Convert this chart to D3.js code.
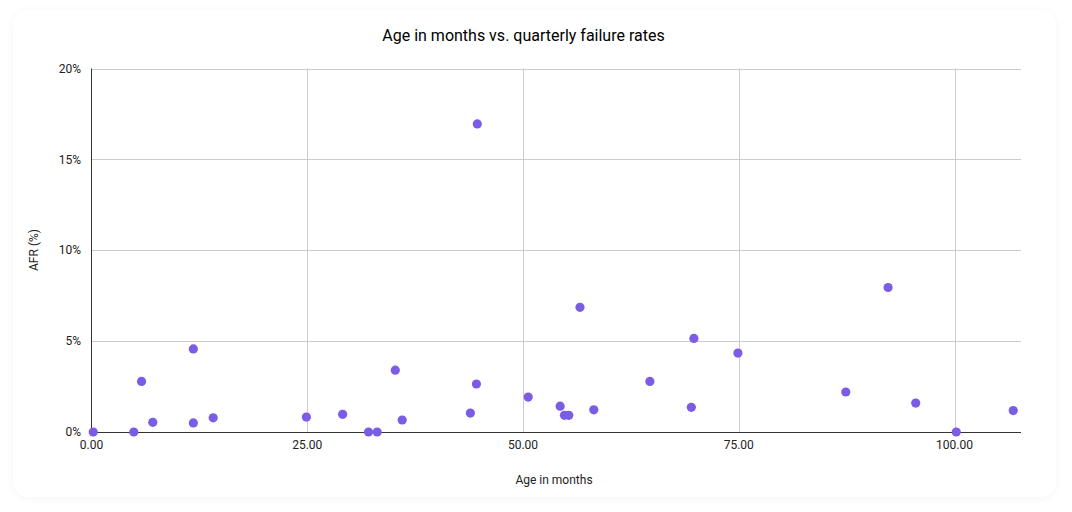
<!DOCTYPE html>
<html>
<head>
<meta charset="utf-8">
<script src="https://cdn.jsdelivr.net/npm/d3@7"></script>
<style>
  html, body { margin: 0; padding: 0; background: #ffffff; }
  svg { display: block; font-family: Roboto, "Noto Sans", sans-serif; }
</style>
</head>
<body>
<svg id="chart" width="1072" height="512"></svg>
<script>
const ageMonths = [0.2, 4.9, 5.8, 7.1, 11.8, 11.8, 14.1, 24.9, 29.1, 32.1, 33.1, 35.2, 36.0, 43.9, 44.6, 44.7, 50.6, 54.3, 54.8, 55.3, 56.6, 58.2, 64.7, 69.5, 69.8, 74.9, 87.4, 92.3, 95.5, 100.2, 106.8];
const afrPct    = [0.0, 0.0, 2.78, 0.53, 4.57, 0.5, 0.78, 0.82, 0.97, 0.0, 0.0, 3.4, 0.66, 1.04, 2.64, 16.95, 1.92, 1.42, 0.92, 0.92, 6.86, 1.22, 2.78, 1.36, 5.15, 4.34, 2.2, 7.95, 1.59, 0.0, 1.18];
const xTicks = [0, 25, 50, 75, 100];
const yTicks = [0, 5, 10, 15, 20];
const chartTitle = "Age in months vs. quarterly failure rates";
const xTitle = "Age in months";
const yTitle = "AFR (%)";

const svg = d3.select("#chart");
const m = { left: 91.5, right: 1021, top: 68.5, bottom: 432 };

// card
const defs = svg.append("defs");
const f = defs.append("filter").attr("id", "sh").attr("x", "-5%").attr("y", "-5%").attr("width", "110%").attr("height", "110%");
f.append("feDropShadow").attr("dx", 0).attr("dy", 1).attr("stdDeviation", 3).attr("flood-color", "#5050c8").attr("flood-opacity", 0.05);
svg.append("rect").attr("x", 13).attr("y", 10).attr("width", 1043).attr("height", 487)
  .attr("rx", 16).attr("fill", "#ffffff").attr("filter", "url(#sh)");

const x = d3.scaleLinear().domain([0, 107.7]).range([m.left, m.right]);
const y = d3.scaleLinear().domain([0, 20]).range([m.bottom, m.top]);

// grid
svg.append("g").selectAll("line").data(yTicks.filter(d => d > 0)).join("line")
  .attr("x1", m.left).attr("x2", m.right)
  .attr("y1", d => Math.round(y(d)) + 0.5).attr("y2", d => Math.round(y(d)) + 0.5)
  .attr("stroke", "#cccccc").attr("stroke-width", 1);
svg.append("g").selectAll("line").data(xTicks.filter(d => d > 0)).join("line")
  .attr("y1", m.top).attr("y2", m.bottom)
  .attr("x1", d => Math.round(x(d)) + 0.5).attr("x2", d => Math.round(x(d)) + 0.5)
  .attr("stroke", "#cccccc").attr("stroke-width", 1);

// axes lines
svg.append("line").attr("x1", m.left).attr("x2", m.left).attr("y1", m.top).attr("y2", m.bottom + 0.5)
  .attr("stroke", "#333333").attr("stroke-width", 1);
svg.append("line").attr("x1", m.left).attr("x2", m.right).attr("y1", m.bottom + 0.5).attr("y2", m.bottom + 0.5)
  .attr("stroke", "#333333").attr("stroke-width", 1);

// tick labels
svg.append("g").selectAll("text").data(yTicks).join("text")
  .attr("x", 81).attr("y", d => y(d)).attr("dy", "0.35em")
  .attr("text-anchor", "end").attr("font-size", 12).attr("fill", "#222222")
  .text(d => d + "%");
svg.append("g").selectAll("text").data(xTicks).join("text")
  .attr("x", d => x(d)).attr("y", 449)
  .attr("text-anchor", "middle").attr("font-size", 12).attr("fill", "#222222")
  .text(d => d3.format(".2f")(d));

// titles
svg.append("text").attr("x", 523.5).attr("y", 41).attr("text-anchor", "middle")
  .attr("font-size", 16).attr("fill", "#000000").text(chartTitle);
svg.append("text").attr("x", 554).attr("y", 484).attr("text-anchor", "middle")
  .attr("font-size", 12).attr("fill", "#222222").text(xTitle);
svg.append("text").attr("transform", "translate(38,250) rotate(-90)").attr("text-anchor", "middle")
  .attr("font-size", 12).attr("fill", "#222222").text(yTitle);

// points
const pts = ageMonths.map((a, i) => ({ a, v: afrPct[i] }));
svg.append("g").selectAll("circle").data(pts).join("circle")
  .attr("cx", d => x(d.a)).attr("cy", d => y(d.v)).attr("r", 4.6)
  .attr("fill", "#7b5ce5");
</script>
</body>
</html>
